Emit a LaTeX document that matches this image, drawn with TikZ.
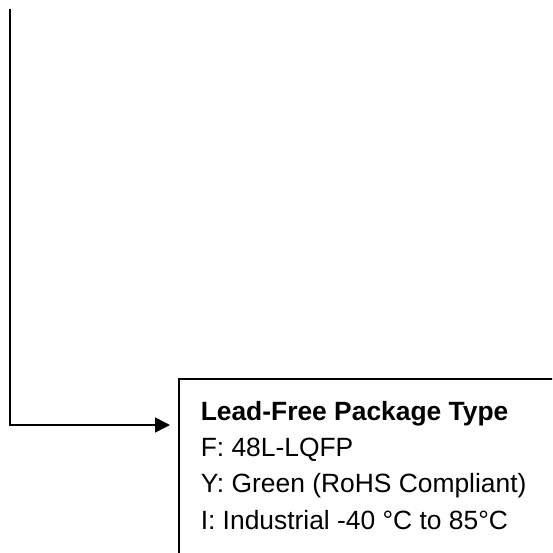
\documentclass[tikz,border=0pt]{standalone}
\usepackage{fontspec}
\setmainfont{Liberation Sans}
\usetikzlibrary{calc,arrows.meta,positioning}

\begin{document}
\begin{tikzpicture}[x=1pt,y=-1pt,>={Triangle[length=15pt,width=15pt]},line width=1.5pt,
  pkgbox/.style={draw,minimum width=420pt,minimum height=220pt,anchor=north west,inner sep=0pt},
  info/.style={anchor=base west,align=left,inner sep=0pt,font=\fontsize{26.4}{36.3}\selectfont}]

  \useasboundingbox (0,0) rectangle (552,553);
  \clip (0,0) rectangle (552,553);

  \coordinate (top) at (10,9);
  \node[pkgbox] (pkg) at (178,378) {};
  % base anchor sits on the last line
  \node[info] (type) at ([xshift=22pt,yshift=-151pt]pkg.north west)
    {\textbf{Lead-Free Package Type}\\
     F: 48L-LQFP\\
     Y: Green (RoHS Compliant)\\
     I: Industrial -40 °C to 85°C};

  \draw[->,shorten >=8pt] (top) |- ([yshift=-47pt]pkg.north west);

\end{tikzpicture}
\end{document}
